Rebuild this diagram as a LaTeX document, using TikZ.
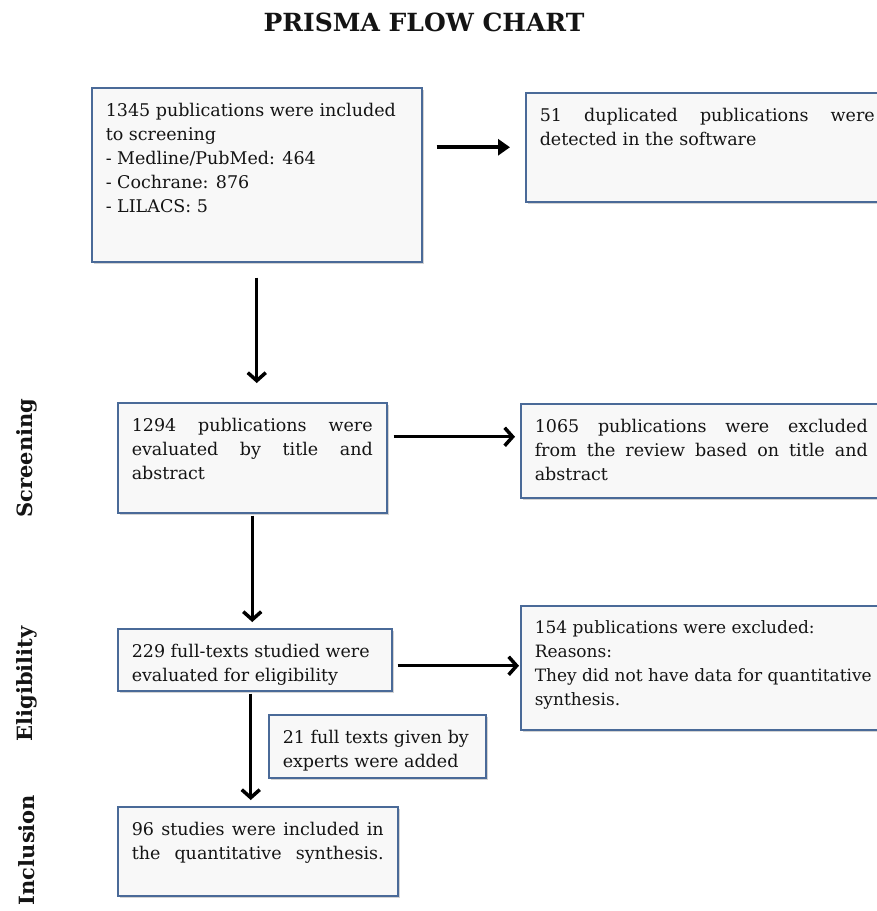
\documentclass[tikz,border=0pt]{standalone}
\usepackage{fontspec}
\setmainfont{DejaVu Serif}
\usetikzlibrary{arrows.meta,positioning,calc,shadows}
\definecolor{EdgeBlue}{HTML}{4A6A98}
\definecolor{BoxFill}{HTML}{F8F8F8}
\definecolor{InkBlack}{HTML}{141414}
\newcommand{\boxtxt}[3]{\parbox[t][#2][t]{#1}{\hyphenpenalty=10000\exhyphenpenalty=10000 #3}}

\begin{document}
\begin{tikzpicture}[x=1pt,y=-1pt,every node/.style={font=\fontsize{17.5}{24}\selectfont,text=InkBlack},
  stagebox/.style={draw=EdgeBlue,fill=BoxFill,line width=1.5pt,inner xsep=14pt,inner ysep=15pt,anchor=north west,
    drop shadow={shadow xshift=2pt,shadow yshift=-2.5pt,opacity=0.35}},
  flow/.style={line width=3pt,-{Straight Barb[length=8pt,width=18pt,line width=3.5pt]}},
  flowtri/.style={line width=4pt,-{Triangle[length=12pt,width=16pt]}},
  phase/.style={rotate=90,font=\fontsize{21}{24}\selectfont\bfseries}]
  \useasboundingbox (0,0) rectangle (877,911);
  \node[font=\fontsize{25}{28}\selectfont\bfseries] (heading) at (424,22) {PRISMA FLOW CHART};
  % phases
  \node[phase] (screening) at (27,458) {Screening};
  \node[phase] (eligibility) at (27,684) {Eligibility};
  \node[phase] (inclusion) at (27,850) {Inclusion};
  % boxes
  \node[stagebox] (pool) at (91,87) {\boxtxt{302pt}{144pt}{\raggedright 1345 publications were included\\to screening\\- Medline/PubMed: 464\\- Cochrane: 876\\- LILACS: 5}};
  \node[stagebox] (dup) at (525,92) {\boxtxt{335pt}{79pt}{51 duplicated publications were detected in the software}};
  \node[stagebox] (screen) at (117,402) {\boxtxt{241pt}{80pt}{1294 publications were evaluated by title and abstract}};
  \node[stagebox] (exclone) at (520,403) {\boxtxt{333pt}{64pt}{1065 publications were excluded from the review based on title and abstract}};
  \node[stagebox] (full) at (117,628) {\boxtxt{246pt}{32pt}{\raggedright 229 full-texts studied were\\evaluated for eligibility}};
  \node[stagebox,font=\fontsize{17}{24}\selectfont] (excltwo) at (520,605) {\boxtxt{338pt}{94pt}{\raggedright 154 publications were excluded:\\Reasons:\\They did not have data for quantitative\\synthesis.}};
  \node[stagebox] (experts) at (268,714) {\boxtxt{189pt}{33pt}{\raggedright 21 full texts given by\\experts were added}};
  \node[stagebox] (incl) at (117,806) {\boxtxt{252pt}{59pt}{\parfillskip=0pt 96 studies were included in the quantitative synthesis.}};
  % arrows
  \draw[flowtri,shorten <=14pt,shorten >=15pt] (pool.east |- dup.west) -- (dup.west);
  \draw[flow,shorten <=15pt,shorten >=19pt] (pool.south) -- (pool.south |- screen.north);
  \draw[flow,shorten <=6pt,shorten >=5pt] ([yshift=21pt]screen.east) -- ([yshift=21pt]screen.east -| exclone.west);
  \draw[flow,shorten <=2pt,shorten >=6pt] (screen.south) -- (screen.south |- full.north);
  \draw[flow,shorten <=5pt,shorten >=1pt] ([yshift=-6pt]full.east) -- ([yshift=-6pt]full.east -| excltwo.west);
  \draw[flow,shorten <=2pt,shorten >=6pt] ([xshift=-4pt]full.south) -- ([xshift=-4pt]full.south |- incl.north);
\end{tikzpicture}
\end{document}
